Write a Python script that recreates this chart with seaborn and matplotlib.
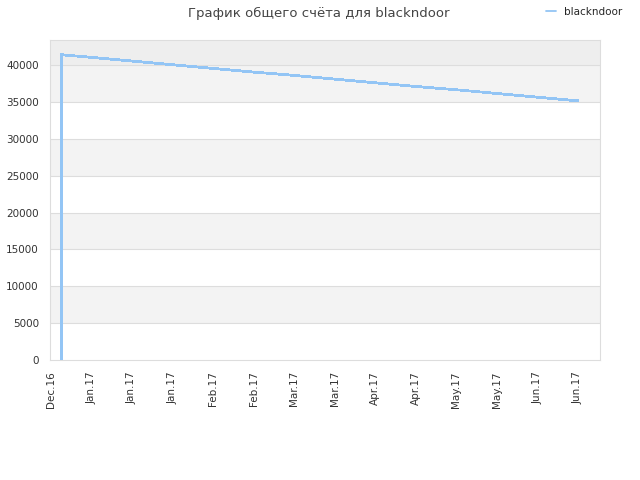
import matplotlib
matplotlib.use("Agg")
import matplotlib.pyplot as plt
import seaborn as sns
import pandas as pd
from matplotlib.lines import Line2D

# Data
dates = ["2016-12-23 12:00", "2016-12-23 14:00", "2017-01-03 00:00", "2017-01-17 00:00",
         "2017-01-31 00:00", "2017-02-14 00:00", "2017-02-28 00:00", "2017-03-14 00:00",
         "2017-03-28 00:00", "2017-04-11 00:00", "2017-04-25 00:00", "2017-05-09 00:00",
         "2017-05-23 00:00", "2017-06-06 00:00", "2017-06-20 00:00"]
values = [0, 41400, 41050, 40550, 40050, 39550, 39050, 38600, 38100, 37600,
          37100, 36650, 36150, 35650, 35150]
series_name = "blackndoor"
tick_dates = ["2016-12-20", "2017-01-03", "2017-01-17", "2017-01-31", "2017-02-14",
              "2017-02-28", "2017-03-14", "2017-03-28", "2017-04-11", "2017-04-25",
              "2017-05-09", "2017-05-23", "2017-06-06", "2017-06-20"]
tick_labels = ["Dec.16", "Jan.17", "Jan.17", "Jan.17", "Feb.17", "Feb.17", "Mar.17",
               "Mar.17", "Apr.17", "Apr.17", "May.17", "May.17", "Jun.17", "Jun.17"]
y_ticks = [0, 5000, 10000, 15000, 20000, 25000, 30000, 35000, 40000]
title = "График общего счёта для blackndoor"

df = pd.DataFrame({"date": pd.to_datetime(dates, format="%Y-%m-%d %H:%M"),
                   "value": values, "player": series_name})

sns.set_theme(style="white")
plt.rcParams['font.family'] = ['DejaVu Sans']

fig = plt.figure(figsize=(6.4, 4.8), dpi=100)
ax = fig.add_axes([50/640, 1-360/480, 550/640, 320/480])

ymax = 43400
# background bands
for lo in y_ticks:
    hi = min(lo + 5000, ymax)
    if lo >= 40000:
        col = "#eeeeee"
    elif (lo // 5000) % 2 == 1:
        col = "#f3f3f3"
    else:
        col = "#ffffff"
    ax.axhspan(lo, hi, color=col, zorder=0, lw=0)
for yt in y_ticks[1:]:
    ax.axhline(yt, color="#dddddd", lw=0.8, zorder=1)

color = "#93c5f5"
sns.lineplot(data=df, x="date", y="value", hue="player", palette=[color],
             ax=ax, lw=1.3, legend=False, zorder=3, antialiased=False)

ax.set_ylim(0, ymax)
ax.set_xlim(pd.Timestamp("2016-12-19 16:00"), pd.Timestamp("2017-06-27 14:00"))
ax.set_yticks(y_ticks)
ax.set_yticklabels([str(v) for v in y_ticks], fontsize=7.5, color="#333333")
ax.set_xticks(pd.to_datetime(tick_dates))
ax.set_xticklabels(tick_labels, rotation=90, fontsize=7.5, color="#333333")
ax.tick_params(axis="x", length=0, pad=8)
ax.tick_params(axis="y", length=0, pad=8)
ax.set_xlabel("")
ax.set_ylabel("")
for s in ax.spines.values():
    s.set_color("#dddddd")
    s.set_linewidth(0.8)

fig.text(319/640, 1-13/480, title, ha="center", va="center", fontsize=9.5, color="#444444")
h = Line2D([0], [0], color=color, lw=1.3)
fig.legend([h], [series_name], loc="center right", bbox_to_anchor=(632/640, 1-12/480),
           frameon=False, fontsize=7.5, handlelength=1.0, handletextpad=0.8)

fig.savefig("out.png", dpi=100)
